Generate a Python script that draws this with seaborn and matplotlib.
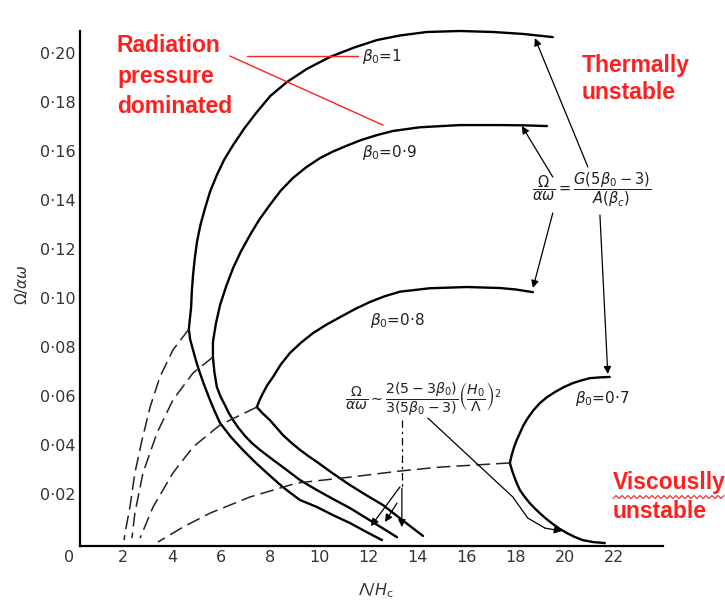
import numpy as np
import matplotlib
matplotlib.use("Agg")
import matplotlib.pyplot as plt
import seaborn as sns

# ---------------- data ----------------
b10_up_x = [19.51, 18.30, 17.07, 15.72, 14.38, 13.30, 12.34, 11.40, 10.43, 9.50, 8.68, 8.00, 7.45, 6.95, 6.48, 6.12, 5.82, 5.55, 5.34, 5.15, 5.01, 4.92, 4.85, 4.80, 4.77, 4.72, 4.68]
b10_up_y = [0.2065, 0.2078, 0.2086, 0.2090, 0.2086, 0.2072, 0.2053, 0.2022, 0.1984, 0.1936, 0.1882, 0.1825, 0.1759, 0.1694, 0.1624, 0.1565, 0.1502, 0.1436, 0.1367, 0.1298, 0.1229, 0.1161, 0.1094, 0.1026, 0.0959, 0.0915, 0.0873]
b10_lo_x = [4.68, 4.73, 4.85, 4.98, 5.13, 5.33, 5.54, 5.74, 5.95, 6.40, 6.88, 7.36, 7.86, 8.50, 9.20, 9.90, 10.55, 11.24, 11.90, 12.55]
b10_lo_y = [0.0873, 0.0832, 0.0788, 0.0741, 0.0694, 0.0638, 0.0584, 0.0536, 0.0490, 0.0432, 0.0380, 0.0332, 0.0286, 0.0229, 0.0176, 0.0147, 0.0114, 0.0082, 0.0046, 0.0012]

b09_up_x = [19.27, 18.30, 17.35, 15.72, 14.09, 13.00, 12.34, 11.70, 11.12, 10.55, 10.02, 9.45, 8.92, 8.42, 7.98, 7.55, 7.17, 6.80, 6.48, 6.20, 5.95, 5.78, 5.66, 5.66]
b09_up_y = [0.1702, 0.1705, 0.1706, 0.1706, 0.1697, 0.1682, 0.1665, 0.1645, 0.1622, 0.1598, 0.1571, 0.1533, 0.1490, 0.1438, 0.1380, 0.1320, 0.1257, 0.1190, 0.1122, 0.1048, 0.0971, 0.0895, 0.0820, 0.0759]
b09_lo_x = [5.66, 5.72, 5.82, 5.97, 6.15, 6.30, 6.48, 6.70, 6.97, 7.25, 7.58, 8.05, 8.51, 9.21, 9.90, 10.55, 11.24, 12.20, 13.16]
b09_lo_y = [0.0759, 0.0698, 0.0637, 0.0598, 0.0563, 0.0532, 0.0502, 0.0470, 0.0437, 0.0408, 0.0380, 0.0344, 0.0310, 0.0257, 0.0216, 0.0180, 0.0143, 0.0084, 0.0024]

b08_up_x = [18.70, 18.00, 17.35, 16.01, 14.50, 13.28, 12.65, 12.06, 11.45, 10.84, 10.28, 9.74, 9.25, 8.80, 8.42, 8.11, 7.88, 7.70, 7.56, 7.45]
b08_up_y = [0.1024, 0.1035, 0.1041, 0.1045, 0.1040, 0.1026, 0.1007, 0.0984, 0.0955, 0.0922, 0.0891, 0.0857, 0.0818, 0.0776, 0.0728, 0.0678, 0.0645, 0.0612, 0.0583, 0.0555]
b08_lo_x = [7.45, 7.70, 7.98, 8.25, 8.51, 8.85, 9.21, 9.55, 9.90, 10.55, 11.24, 11.90, 12.59, 13.40, 14.22]
b08_lo_y = [0.0555, 0.0528, 0.0502, 0.0471, 0.0441, 0.0410, 0.0380, 0.0355, 0.0331, 0.0284, 0.0237, 0.0196, 0.0155, 0.0092, 0.0029]

b07_up_x = [21.83, 21.40, 21.02, 20.68, 20.33, 19.95, 19.59, 19.27, 18.98, 18.72, 18.49, 18.31, 18.17, 18.03, 17.92, 17.83, 17.76]
b07_up_y = [0.0678, 0.0676, 0.0673, 0.0664, 0.0653, 0.0636, 0.0616, 0.0595, 0.0571, 0.0542, 0.0510, 0.0480, 0.0449, 0.0418, 0.0388, 0.0357, 0.0327]
b07_lo_x = [17.76, 17.85, 17.96, 18.06, 18.17, 18.36, 18.57, 18.77, 18.98, 19.24, 19.51, 19.79, 20.08, 20.40, 20.73, 21.15, 21.63]
b07_lo_y = [0.0327, 0.0296, 0.0265, 0.0240, 0.0216, 0.0189, 0.0163, 0.0142, 0.0122, 0.0099, 0.0078, 0.0058, 0.0041, 0.0025, 0.0012, 0.0004, 0.0000]

d10_x = [4.68, 4.03, 3.50, 3.10, 2.77, 2.48, 2.28, 2.08, 2.04]
d10_y = [0.0873, 0.0788, 0.0678, 0.0555, 0.0420, 0.0286, 0.0147, 0.0041, 0.0012]
d09_x = [5.66, 4.85, 4.03, 3.38, 2.81, 2.48, 2.36]
d09_y = [0.0759, 0.0694, 0.0584, 0.0449, 0.0286, 0.0122, 0.0020]
d08_x = [7.45, 5.95, 4.85, 4.03, 3.22, 2.69]
d08_y = [0.0555, 0.0482, 0.0392, 0.0286, 0.0147, 0.0020]
d07_x = [17.76, 14.91, 13.28, 11.24, 9.08, 7.17, 5.54, 4.44, 3.42]
d07_y = [0.0327, 0.0310, 0.0294, 0.0269, 0.0245, 0.0188, 0.0122, 0.0065, 0.0004]

x_ticks = [2, 4, 6, 8, 10, 12, 14, 16, 18, 20, 22]
y_ticks = [0.02, 0.04, 0.06, 0.08, 0.10, 0.12, 0.14, 0.16, 0.18, 0.20]
y_tick_labels = ["0·02", "0·04", "0·06", "0·08", "0·10", "0·12", "0·14", "0·16", "0·18", "0·20"]

# ---------------- figure ----------------
sns.set_style("white")
plt.rcParams['font.family'] = ['DejaVu Sans']
plt.rcParams['mathtext.fontset'] = 'dejavusans'

W, H = 725, 601
fig = plt.figure(figsize=(W / 100, H / 100), dpi=100)
ax = fig.add_axes([80 / W, (601 - 545.5) / H, (663 - 80) / W, 514.5 / H])
ax.set_xlim(0.244, 24.0)
ax.set_ylim(-0.001, 0.2090)

solid = dict(color='black', linewidth=1.7, sort=False, estimator=None, ax=ax)
for xs, ys in [(b10_up_x, b10_up_y), (b10_lo_x, b10_lo_y),
               (b09_up_x, b09_up_y), (b09_lo_x, b09_lo_y),
               (b08_up_x, b08_up_y), (b08_lo_x, b08_lo_y),
               (b07_up_x, b07_up_y), (b07_lo_x, b07_lo_y)]:
    sns.lineplot(x=xs, y=ys, **solid)
    ax.lines[-1].set_clip_on(False)
    ax.lines[-1].set_solid_joinstyle('round')

dashed = dict(color='#222222', linewidth=1.1, sort=False, estimator=None, ax=ax)
for xs, ys in [(d10_x, d10_y), (d09_x, d09_y), (d08_x, d08_y), (d07_x, d07_y)]:
    sns.lineplot(x=xs, y=ys, **dashed)
    ax.lines[-1].set_dashes([9, 4])

sns.despine(ax=ax)
for s in ['left', 'bottom']:
    ax.spines[s].set_linewidth(1.6)
    ax.spines[s].set_color('black')

ax.set_xticks(x_ticks)
ax.set_xticklabels([str(t) for t in x_ticks])
ax.set_yticks(y_ticks)
ax.set_yticklabels(y_tick_labels)
ax.tick_params(axis='both', direction='in', length=8, width=1.3, colors='black',
               labelcolor='#333333', labelsize=11.5)
ax.tick_params(axis='x', pad=3)
ax.tick_params(axis='y', pad=3)
ax.set_xlabel('')
ax.set_ylabel('')

# origin label and axis titles
fig.text(69 / W, 1 - 557 / H, '0', ha='center', va='center', fontsize=11.5, color='#333333')
fig.text(22 / W, 1 - 285 / H, r'$\Omega/\alpha\omega$', rotation=90, ha='center', va='center',
         fontsize=11, color='#333333')
fig.text(376 / W, 1 - 591 / H, r'$\Lambda/H_{\rm c}$', ha='center', va='center',
         fontsize=11.5, color='#333333')

# curve labels
lab = dict(fontsize=11, color='#222222', va='center', ha='left')
ax.text(11.73, 0.1984, r'$\beta_0$=1', **lab)
ax.text(11.73, 0.1596, r'$\beta_0$=0·9', **lab)
ax.text(12.06, 0.0910, r'$\beta_0$=0·8', **lab)
ax.text(20.41, 0.0592, r'$\beta_0$=0·7', **lab)

# formulas
ax.text(21.10, 0.1441, r'$\dfrac{\Omega}{\alpha\omega}=\dfrac{G(5\beta_0-3)}{A(\beta_c)}$',
        fontsize=10.5, ha='center', va='center', color='#222222')
ax.text(14.25, 0.0592,
        r'$\dfrac{\Omega}{\alpha\omega}\sim\dfrac{2(5-3\beta_0)}{3(5\beta_0-3)}\left(\dfrac{H_0}{\Lambda}\right)^2$',
        fontsize=10.2, ha='center', va='center', color='#222222')

# arrows
ap = dict(arrowstyle='-|>', color='black', lw=0.9, mutation_scale=11, shrinkA=0, shrinkB=0)
for (x0, y0), (x1, y1) in [((20.94, 0.1535), (18.78, 0.2061)),
                           ((19.51, 0.1494), (18.25, 0.1702)),
                           ((19.51, 0.1347), (18.70, 0.1041)),
                           ((21.43, 0.1339), (21.75, 0.0690)),
                           ((13.36, 0.0224), (13.36, 0.0065)),
                           ((13.28, 0.0229), (12.10, 0.0069)),
                           ((13.16, 0.0163), (12.67, 0.0086)),
                           ((19.19, 0.0061), (19.88, 0.0049))]:
    ax.annotate('', xy=(x1, y1), xytext=(x0, y0), arrowprops=ap, annotation_clip=False)
ax.plot([13.36, 13.36], [0.0502, 0.0224], color='black', lw=0.9, dashes=[6, 3, 2, 3])
ax.plot([14.42, 17.88, 18.49, 19.19], [0.0510, 0.0188, 0.0102, 0.0061], color='black', lw=0.9)

# red annotations
red = '#ff1f1f'
ax.plot([7.05, 11.57], [0.1988, 0.1988], color=red, lw=1.0)
ax.plot([6.35, 12.59], [0.1988, 0.1706], color=red, lw=1.0)
rfont = dict(color=red, fontsize=16.5, fontweight='bold', family='Liberation Sans', ha='left', va='top')
fig.text(117 / W, 1 - 34 / H, 'Radiation\npressure\ndominated', linespacing=1.42, **rfont)
fig.text(582 / W, 1 - 54 / H, 'Thermally\nunstable', linespacing=1.22, **rfont)
fig.text(613 / W, 1 - 471 / H, 'Viscouslly\nunstable', linespacing=1.35, **rfont)

# spell-check squiggle under "Viscouslly"
sq_x = np.arange(613, 726, 3)
sq_y = 497 + 1.5 * np.where(np.arange(len(sq_x)) % 2 == 0, 1, -1)
fig.add_artist(plt.Line2D(sq_x / W, 1 - sq_y / H, color=red, lw=0.8, transform=fig.transFigure))

fig.savefig('out.png', dpi=100)
